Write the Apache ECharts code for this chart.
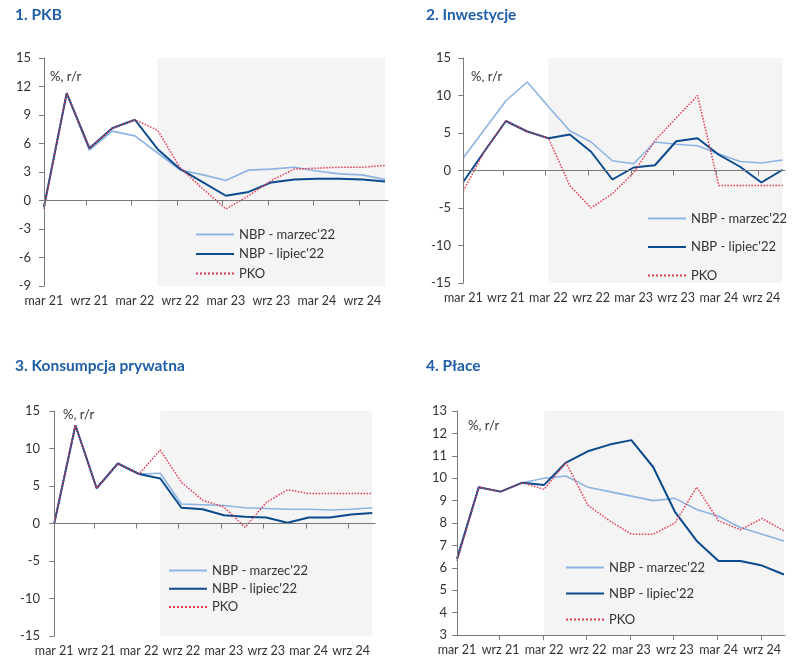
<!DOCTYPE html>
<html><head><meta charset="utf-8">
<script src="https://cdn.jsdelivr.net/npm/echarts@6/dist/echarts.min.js"></script>
<style>html,body{margin:0;padding:0;background:#fff}#c{width:800px;height:663px}</style>
</head><body><div id="c"></div>
<script>
// ---------- DATA ----------
const quarters = ['mar 21','cze 21','wrz 21','gru 21','mar 22','cze 22','wrz 22','gru 22','mar 23','cze 23','wrz 23','gru 23','mar 24','cze 24','wrz 24','gru 24'];
const labelIdx = [0,2,4,6,8,10,12,14];
const seriesNames = ["NBP - marzec'22", "NBP - lipiec'22", "PKO"];
const panelTitles = ['1. PKB', '2. Inwestycje', '3. Konsumpcja prywatna', '4. Płace'];
const unitLabel = '%, r/r';

// 1. PKB
const pkbMarzec = [-0.7, 11.3, 5.3, 7.3, 6.8, 5.0, 3.2, 2.7, 2.1, 3.2, 3.3, 3.5, 3.1, 2.8, 2.7, 2.2];
const pkbLipiec = [-0.7, 11.3, 5.5, 7.6, 8.5, 5.4, 3.3, 1.9, 0.5, 0.9, 1.9, 2.2, 2.3, 2.3, 2.2, 2.0];
const pkbPKO    = [-0.9, 11.3, 5.5, 7.6, 8.5, 7.4, 3.4, 1.2, -0.9, 0.5, 2.1, 3.3, 3.4, 3.5, 3.5, 3.7];
// 2. Inwestycje
const invMarzec = [1.7, 5.5, 9.3, 11.8, 8.5, 5.3, 3.8, 1.3, 0.9, 3.8, 3.5, 3.3, 2.2, 1.2, 1.0, 1.4];
const invLipiec = [-1.5, 2.6, 6.6, 5.2, 4.3, 4.8, 2.5, -1.2, 0.4, 0.7, 3.9, 4.3, 2.1, 0.5, -1.6, 0.1];
const invPKO    = [-2.7, 2.6, 6.6, 5.2, 4.3, -2.0, -5.0, -3.1, -0.3, 4.0, 7.0, 10.0, -2.0, -2.0, -2.0, -2.0];
// 3. Konsumpcja prywatna
const konMarzec = [0.0, 13.1, 4.7, 8.0, 6.6, 6.7, 2.6, 2.5, 2.4, 2.1, 2.0, 1.9, 1.9, 1.8, 1.9, 2.1];
const konLipiec = [0.0, 13.1, 4.7, 8.0, 6.6, 6.0, 2.1, 1.9, 1.1, 0.9, 0.8, 0.1, 0.8, 0.8, 1.2, 1.4];
const konPKO    = [0.0, 13.1, 4.7, 8.0, 6.6, 9.8, 5.5, 3.1, 2.2, -0.5, 2.8, 4.5, 4.0, 4.0, 4.0, 4.0];
// 4. Płace
const plMarzec = [6.4, 9.6, 9.4, 9.8, 10.0, 10.1, 9.6, 9.4, 9.2, 9.0, 9.1, 8.6, 8.3, 7.8, 7.5, 7.2];
const plLipiec = [6.4, 9.6, 9.4, 9.8, 9.7, 10.7, 11.2, 11.5, 11.7, 10.5, 8.5, 7.2, 6.3, 6.3, 6.1, 5.7];
const plPKO    = [6.3, 9.6, 9.4, 9.8, 9.5, 10.7, 8.8, 8.1, 7.5, 7.5, 8.0, 9.6, 8.1, 7.7, 8.2, 7.65];

// ---------- LAYOUT ----------
const panels = [
  {data:[pkbMarzec,pkbLipiec,pkbPKO], grid:{left:41,top:58,width:347,height:228}, xmin:-0.13, xmax:15.13, ymin:-9, ymax:15, yint:3, shade:5,
   title:{left:15,top:7}, unit:{left:50,top:70}, legend:{left:195,top:228,itemGap:6.5}, tickOff:0.14},
  {data:[invMarzec,invLipiec,invPKO], grid:{left:461,top:58,width:324,height:225}, xmin:-0.11, xmax:15.11, ymin:-15, ymax:15, yint:5, shade:4,
   title:{left:426,top:7}, unit:{left:471,top:70}, legend:{left:647,top:212,itemGap:15.5}, tickOff:0.13},
  {data:[konMarzec,konLipiec,konPKO], grid:{left:50,top:411,width:325,height:225}, xmin:-0.2, xmax:15.13, ymin:-15, ymax:15, yint:5, shade:5,
   title:{left:15,top:358}, unit:{left:63,top:408}, legend:{left:168,top:564,itemGap:5.3}, tickOff:0.13},
  {data:[plMarzec,plLipiec,plPKO], grid:{left:457,top:411,width:328,height:224}, xmin:0, xmax:15.05, ymin:3, ymax:13, yint:1, shade:4,
   title:{left:426,top:358}, unit:{left:468,top:419}, legend:{left:565,top:561,itemGap:13}, tickOff:0.06}
];

const colors = ['#8db3e2', '#0b4a8c', '#e23a52'];
const widths = [1.6, 2, 1.5];
const types = ['solid', 'solid', 'dotted'];
const axisColor = '#7a7a7a';
const textColor = '#333333';
const fontFamily = 'Lato, "Open Sans", sans-serif';

const option = {
  animation: false,
  backgroundColor: '#ffffff',
  textStyle: {fontFamily: fontFamily},
  title: [], grid: [], xAxis: [], yAxis: [], series: [], legend: []
};

panels.forEach((p, k) => {
  option.title.push({text: panelTitles[k], left: p.title.left, top: p.title.top, padding: 0,
    textStyle: {fontSize: 15.5, fontWeight: 'bold', color: '#1f5ea8', fontFamily: fontFamily}});
  option.title.push({text: unitLabel, left: p.unit.left, top: p.unit.top, padding: 0,
    textStyle: {fontSize: 13, fontWeight: 'normal', color: textColor, fontFamily: fontFamily}});
  option.grid.push(Object.assign({containLabel: false}, p.grid));
  const ticks = labelIdx.slice(1).map(v => v - p.tickOff);
  // label axis (bottom)
  option.xAxis.push({type: 'value', gridIndex: k, min: p.xmin, max: p.xmax, position: 'bottom',
    axisLine: {show: false, onZero: false}, axisTick: {show: false}, splitLine: {show: false},
    axisLabel: {customValues: labelIdx, formatter: v => quarters[Math.round(v)] || '', color: textColor, fontSize: 12.5, margin: 8, fontFamily: fontFamily}
  });
  // zero-line axis
  option.xAxis.push({type: 'value', gridIndex: k, min: p.xmin, max: p.xmax, position: 'bottom', z: 5,
    axisLine: {show: true, onZero: true, lineStyle: {color: axisColor, width: 1}},
    axisTick: {show: true, customValues: ticks, length: 5, lineStyle: {color: axisColor}},
    axisLabel: {show: false}, splitLine: {show: false}
  });
  option.yAxis.push({type: 'value', gridIndex: k, min: p.ymin, max: p.ymax, interval: p.yint, z: 5,
    axisLine: {show: true, lineStyle: {color: axisColor}},
    axisTick: {show: true, length: 5, lineStyle: {color: axisColor}},
    splitLine: {show: false},
    axisLabel: {color: textColor, fontSize: 13, margin: 10, fontFamily: fontFamily}
  });
  p.data.forEach((vals, s) => {
    const ser = {
      name: seriesNames[s], type: 'line', xAxisIndex: 2 * k, yAxisIndex: k,
      symbol: 'none', data: vals.map((v, i) => [i, v]),
      lineStyle: {color: colors[s], width: widths[s], type: types[s]},
      itemStyle: {color: colors[s]},
      z: 2 + s
    };
    if (s === 0) {
      ser.markArea = {silent: true, itemStyle: {color: '#f4f4f4'},
        data: [[{xAxis: p.shade}, {xAxis: quarters.length - 1}]]};
    }
    option.series.push(ser);
  });
  option.legend.push({orient: 'vertical', left: p.legend.left, top: p.legend.top, padding: 0,
    itemWidth: 38, itemHeight: 14, itemGap: p.legend.itemGap,
    itemStyle: {opacity: 0}, selectedMode: false,
    textStyle: {color: textColor, fontSize: 13, fontFamily: fontFamily},
    data: seriesNames});
});

const chart = echarts.init(document.getElementById('c'), null, {renderer: 'canvas'});
chart.setOption(option);
</script>
</body></html>
